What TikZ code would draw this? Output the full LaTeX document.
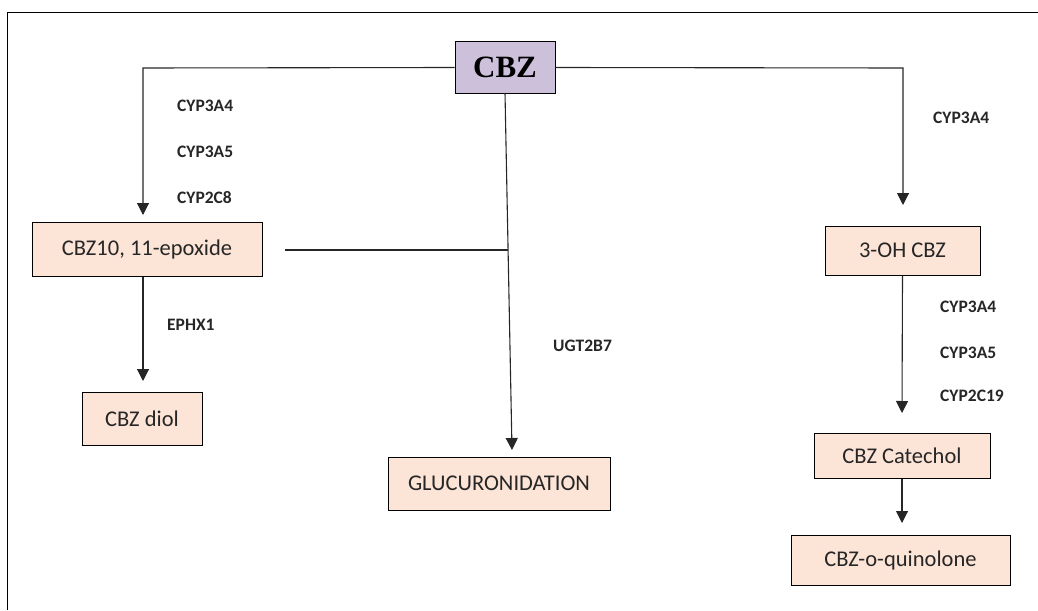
\documentclass[tikz,border=0pt]{standalone}
\usepackage{fontspec}
\setmainfont{Carlito}
\newfontfamily\cbzfont{Liberation Serif}
\usetikzlibrary{arrows.meta}
\definecolor{peach}{HTML}{FCE4D6}
\definecolor{lav}{HTML}{CCC0DA}
\begin{document}
\begin{tikzpicture}[x=1pt,y=-1pt,
  box/.style={draw=black,line width=1pt,fill=peach,inner sep=0pt,text=black!85,font=\fontsize{22.5}{26}\selectfont},
  enz/.style={anchor=west,inner sep=0pt,text=black!85,font=\fontsize{17.5}{20}\selectfont\bfseries},
  conn/.style={draw=black!85,line width=1.1pt},
  arr/.style={conn,-{Triangle[width=12pt,length=12pt]}}]
\useasboundingbox (0,0) rectangle (1038,610);
\draw[line width=0.8pt] (7,610) -- (7,12) -- (1038,12);
\node[draw=black,line width=1pt,fill=lav,minimum width=100pt,minimum height=51pt,inner sep=0pt,font=\cbzfont\fontsize{31}{33}\selectfont\bfseries] (cbz) at (505,67.5) {CBZ};
\node[box,minimum width=230pt,minimum height=54pt] (epo) at (147,249) {CBZ10, 11-epoxide};
\node[box,minimum width=120pt,minimum height=53pt] (diol) at (142,418.5) {CBZ diol};
\node[box,minimum width=222pt,minimum height=53pt] (glu) at (499,483.5) {GLUCURONIDATION};
\node[box,minimum width=155pt,minimum height=49pt] (oh) at (902.5,250.5) {3-OH CBZ};
\node[box,minimum width=176pt,minimum height=45pt] (cat) at (902,455.5) {CBZ Catechol};
\node[box,minimum width=219pt,minimum height=50pt] (quin) at (900.5,560) {CBZ-o-quinolone};
\coordinate (lt) at (143,68);
\coordinate (rt) at (903,68);
\coordinate (cb) at (505,93);
\coordinate (gtip) at (512,450);
\coordinate (j) at (508,250);
\coordinate (es) at (285,250);
\draw[arr] (cbz.west) -- (lt) -- (143,215);
\draw[arr] (cbz.east) -- (rt) -- (903,205);
\draw[arr] (cb) -- (gtip);
\draw[conn] (es) -- (j);
\draw[arr] (epo.south -| diol) ++(1,0) -- (143,381);
\draw[arr] (oh.south) -- (902,413);
\draw[arr] (cat.south) -- (902,523);
\node[enz] (e1) at (177,106) {CYP3A4};
\node[enz] (e2) at (177,152) {CYP3A5};
\node[enz] (e3) at (177,198) {CYP2C8};
\node[enz] (e4) at (933,118) {CYP3A4};
\node[enz] (e5) at (167,325) {EPHX1};
\node[enz] (e6) at (553,346) {UGT2B7};
\node[enz] (e7) at (940,307) {CYP3A4};
\node[enz] (e8) at (940,353) {CYP3A5};
\node[enz] (e9) at (940,396) {CYP2C19};
\end{tikzpicture}
\end{document}
